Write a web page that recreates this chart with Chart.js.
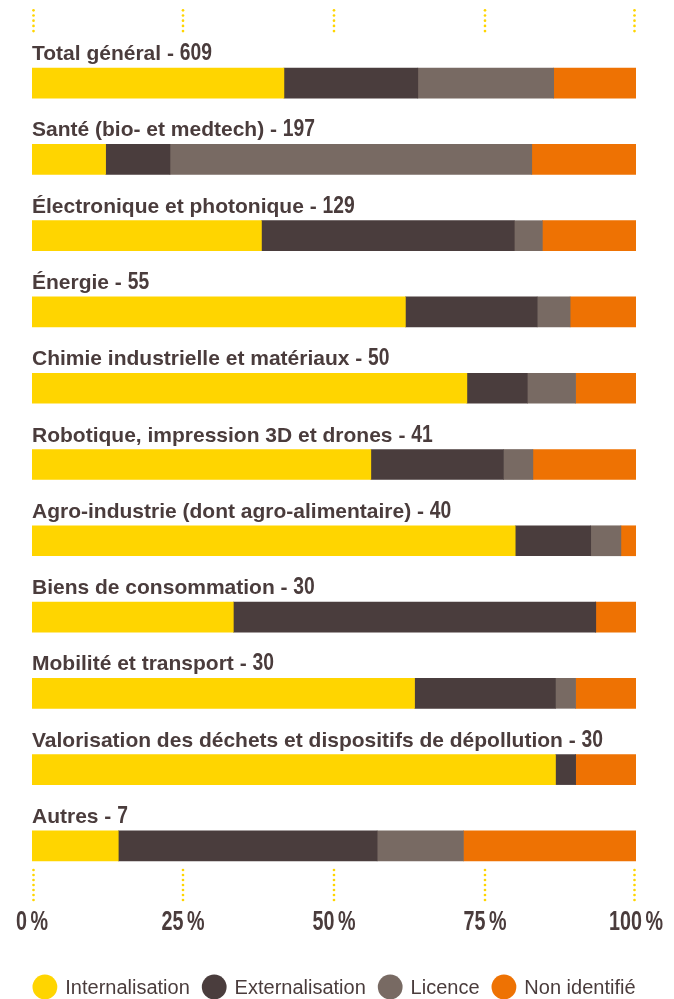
<!DOCTYPE html>
<html lang="fr">
<head>
<meta charset="utf-8">
<title>Répartition par secteur</title>
<script src="https://cdn.jsdelivr.net/npm/chart.js@4.4.1/dist/chart.umd.min.js"></script>
<style>
  html, body { margin: 0; padding: 0; background: #ffffff; }
  #wrap { width: 674px; height: 999px; }
</style>
</head>
<body>
<div id="wrap"><canvas id="chart" width="674" height="999"></canvas></div>
<script>
// Secteurs et nombre total de projets par secteur
const categories = [
  'Total général',
  'Santé (bio- et medtech)',
  'Électronique et photonique',
  'Énergie',
  'Chimie industrielle et matériaux',
  'Robotique, impression 3D et drones',
  'Agro-industrie (dont agro-alimentaire)',
  'Biens de consommation',
  'Mobilité et transport',
  'Valorisation des déchets et dispositifs de dépollution',
  'Autres'
];
const totals = [609, 197, 129, 55, 50, 41, 40, 30, 30, 30, 7];

// Nombre de projets par mode de valorisation
const internalisation = [254, 24, 49, 34, 36, 23, 32, 10, 19, 26, 1];
const externalisation = [135, 21, 54, 12, 5, 9, 5, 18, 7, 1, 3];
const licence         = [137, 118, 6, 3, 4, 2, 2, 0, 1, 0, 1];
const nonIdentifie    = [83, 34, 20, 6, 5, 7, 1, 2, 3, 3, 2];

const seriesNames = ['Internalisation', 'Externalisation', 'Licence', 'Non identifié'];
const tickValues = [0, 25, 50, 75, 100];

const COLORS = ['#FFD500', '#4A3D3D', '#786A63', '#EE7203'];
const TEXT = '#4A3C3C';
const GUIDE = '#FFD500';
const FONT = '"Liberation Sans", Arial, sans-serif';

// part de chaque mode dans le total du secteur, en %
const share = arr => arr.map((v, i) => v / totals[i] * 100);

const seriesCounts = [internalisation, externalisation, licence, nonIdentifie];
const datasets = seriesCounts.map((arr, k) => ({
  label: seriesNames[k],
  data: share(arr),
  backgroundColor: COLORS[k],
  borderWidth: 0,
  barThickness: 30
}));

// Repères pointillés, libellés de secteurs, graduations et légende
const decor = {
  id: 'decor',
  afterDraw(chart) {
    const { ctx, chartArea } = chart;
    const x = chart.scales.x;
    const y = chart.scales.y;
    ctx.save();

    // petites lignes pointillées en haut et en bas de chaque graduation
    ctx.fillStyle = GUIDE;
    const dot = (cx, cy) => { ctx.beginPath(); ctx.arc(cx, cy, 1.35, 0, Math.PI * 2); ctx.fill(); };
    tickValues.forEach(v => {
      let px = x.getPixelForValue(v);
      if (v === x.min) px += 1.5;
      if (v === x.max) px -= 1.5;
      for (let k = 0; k < 5; k++) dot(px, 10.3 + k * 5.2);
      for (let k = 0; k < 7; k++) dot(px, chartArea.bottom - 14 + k * 5);
    });

    // libellé de chaque barre : nom du secteur + effectif
    ctx.fillStyle = TEXT;
    ctx.textBaseline = 'alphabetic';
    ctx.textAlign = 'left';
    categories.forEach((cat, i) => {
      const yc = y.getPixelForValue(i);
      const base = yc - 23;
      const x0 = chartArea.left;
      ctx.font = 'bold 21px ' + FONT;
      const head = cat + ' - ';
      ctx.fillText(head, x0, base);
      const w = ctx.measureText(head).width;
      ctx.save();
      ctx.translate(x0 + w, base);
      ctx.scale(0.82, 1);
      ctx.font = 'bold 23.5px ' + FONT;
      ctx.fillText(String(totals[i]), 0, 0);
      ctx.restore();
    });

    // graduations de l'axe des pourcentages
    const sx = 0.73;
    const tickBase = chartArea.bottom + 46;
    ctx.font = 'bold 27px ' + FONT;
    tickValues.forEach(v => {
      const px = x.getPixelForValue(v);
      const num = String(v);
      const wn = ctx.measureText(num).width * sx;
      const wp = ctx.measureText('%').width * sx;
      const gap = 3.5;
      const start = px - (wn + gap + wp) / 2;
      ctx.save();
      ctx.translate(start, tickBase);
      ctx.scale(sx, 1);
      ctx.fillText(num, 0, 0);
      ctx.fillText('%', (wn + gap) / sx, 0);
      ctx.restore();
    });

    // légende : pastilles rondes + nom de la série, centrée sous le graphique
    const r = 12.4, gapText = 8, gapItem = 12, ly = 987;
    ctx.font = '20px ' + FONT;
    ctx.textBaseline = 'middle';
    const items = chart.data.datasets.map(ds => ({
      text: ds.label, color: ds.backgroundColor, w: ctx.measureText(ds.label).width
    }));
    const total = items.reduce((s, it) => s + 2 * r + gapText + it.w, 0) + gapItem * (items.length - 1);
    let cx = (chartArea.left + chartArea.right) / 2 - total / 2;
    items.forEach(it => {
      ctx.fillStyle = it.color;
      ctx.beginPath();
      ctx.arc(cx + r, ly, r, 0, Math.PI * 2);
      ctx.fill();
      ctx.fillStyle = TEXT;
      ctx.fillText(it.text, cx + 2 * r + gapText, ly + 1);
      cx += 2 * r + gapText + it.w + gapItem;
    });

    ctx.restore();
  }
};

Chart.defaults.font.family = FONT;
Chart.defaults.color = TEXT;

new Chart(document.getElementById('chart'), {
  type: 'bar',
  data: { labels: categories, datasets },
  options: {
    indexAxis: 'y',
    responsive: false,
    animation: false,
    layout: { padding: { top: 45, left: 32, right: 38, bottom: 37 } },
    scales: {
      x: {
        stacked: true,
        min: 0,
        max: 100,
        grid: { display: false },
        border: { display: false },
        ticks: { display: false, stepSize: 25 },
        afterFit(scale) { scale.height = 78; }
      },
      y: {
        stacked: true,
        display: false
      }
    },
    plugins: {
      legend: { display: false },
      tooltip: { enabled: false }
    }
  },
  plugins: [decor]
});
</script>
</body>
</html>
